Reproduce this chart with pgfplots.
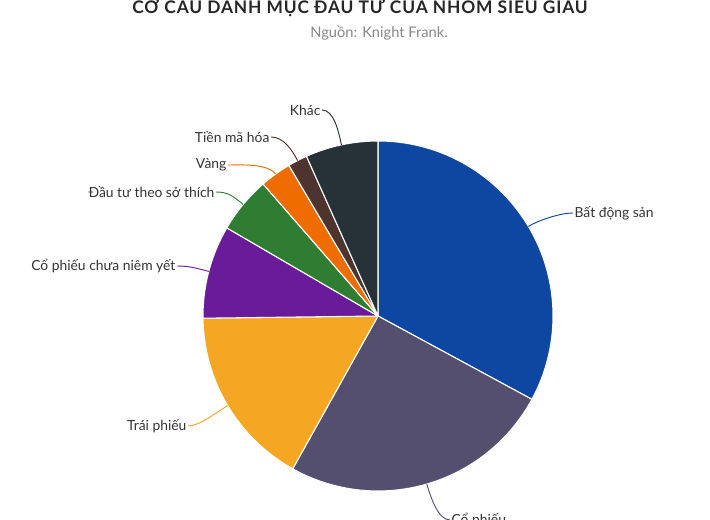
\documentclass[border=0pt]{standalone}
\usepackage{pgfplots}
\pgfplotsset{compat=1.18}
\usepackage{pgfplotstable}
\usetikzlibrary{calc}
\usepackage{fontspec}
\setmainfont{Lato}

\definecolor{cBDS}{HTML}{0D47A1}
\definecolor{cCP}{HTML}{544F6F}
\definecolor{cTP}{HTML}{F5A623}
\definecolor{cCPN}{HTML}{6A1B9A}
\definecolor{cST}{HTML}{2E7D32}
\definecolor{cVang}{HTML}{EF6C00}
\definecolor{cTMH}{HTML}{4E342E}
\definecolor{cKhac}{HTML}{263238}
\definecolor{txt}{HTML}{333333}
\definecolor{sub}{HTML}{888888}

% share (%), slice colour, label position in pixels (y down), anchor, side
\pgfplotstableread[col sep=comma]{
name,value,color,lx,ly,anc,side
Bất động sản,32.9,cBDS,573,213,west,-1
Cổ phiếu,25.2,cCP,450,520,west,-1
Trái phiếu,16.7,cTP,188,426,east,1
Cổ phiếu chưa niêm yết,8.6,cCPN,177,266,east,1
Đầu tư theo sở thích,5.2,cST,216,192,east,1
Vàng,2.9,cVang,228,165,east,1
Tiền mã hóa,1.8,cTMH,271,137,east,1
Khác,6.7,cKhac,322,110,east,1
}\piedata

\begin{document}
\begin{tikzpicture}
\begin{axis}[
  x=0.75pt, y=0.75pt,
  xmin=0, xmax=710, ymin=0, ymax=520,
  y dir=reverse,
  hide axis,
  clip=false,
]
\coordinate (bl) at (axis cs:0,520);
\coordinate (tr) at (axis cs:710,0);
\node[anchor=base, font=\bfseries\fontsize{13}{15}\selectfont\addfontfeature{LetterSpace=5}, text=black!85]
  at (axis cs:360,14) {CƠ CẤU DANH MỤC ĐẦU TƯ CỦA NHÓM SIÊU GIÀU};
\node[font=\fontsize{11}{13}\selectfont, text=sub]
  at (axis cs:379,33) {Nguồn: Knight Frank.};
\pgfplotsextra{
  \def\R{131.25pt}
  \pgfplotstablegetrowsof{\piedata}
  \pgfmathtruncatemacro\N{\pgfplotsretval-1}
  \xdef\a{90}
  \foreach \i in {0,...,\N}{
    \pgfplotstablegetelem{\i}{value}\of\piedata \let\v\pgfplotsretval
    \pgfplotstablegetelem{\i}{color}\of\piedata \let\c\pgfplotsretval
    \pgfplotstablegetelem{\i}{name}\of\piedata \let\nm\pgfplotsretval
    \pgfplotstablegetelem{\i}{lx}\of\piedata \let\lx\pgfplotsretval
    \pgfplotstablegetelem{\i}{ly}\of\piedata \let\ly\pgfplotsretval
    \pgfplotstablegetelem{\i}{anc}\of\piedata \let\anc\pgfplotsretval
    \pgfplotstablegetelem{\i}{side}\of\piedata \let\sd\pgfplotsretval
    \pgfmathsetmacro\b{\a-3.6*\v}
    \pgfmathsetmacro\m{(\a+\b)/2}
    \fill[\c, draw=white, line width=0.8pt, line join=round]
      (axis cs:378,316) -- ++(\a:\R) arc[start angle=\a, end angle=\b, radius=\R] -- cycle;
    \path (axis cs:378,316) ++(\m:\R) coordinate (e) ++(\m:10pt) coordinate (e2);
    \node[anchor=\anc, text=txt, font=\fontsize{10.4}{12}\selectfont, inner sep=1pt]
      (L) at (axis cs:\lx,\ly) {\nm};
    \draw[\c, line width=0.7pt] (e) .. controls (e2) and ($(L.\anc)+(\sd*9pt,0)$) .. (L.\anc);
    \xdef\a{\b}
  }
}
\end{axis}
\pgfresetboundingbox
\useasboundingbox (bl) rectangle (tr);
\end{tikzpicture}
\end{document}
